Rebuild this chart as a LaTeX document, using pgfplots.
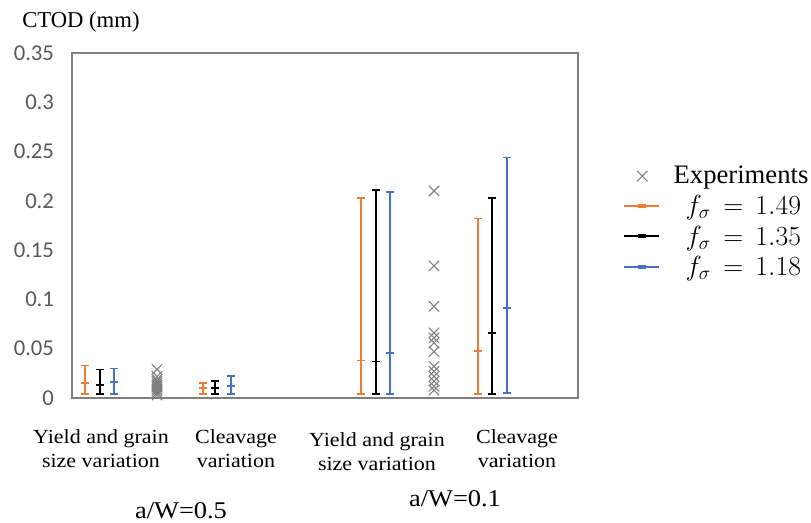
\documentclass[border=0pt]{standalone}
\usepackage{pgfplots}
\usepackage{pgfplotstable}
\usepackage{fontspec}
\pgfplotsset{compat=1.18}
\setmainfont{Liberation Serif}
\newfontfamily\carlito{Carlito}
\newfontfamily\wideserif[FakeStretch=1.1]{Liberation Serif}
\definecolor{cOrange}{HTML}{ED7D31}
\definecolor{cBlue}{HTML}{4472C4}
\definecolor{cGray}{HTML}{7F7F7F}
\definecolor{cTick}{HTML}{595959}

% x in pixel-like units (0..506), columns: x min mid max
\pgfplotstableread{
x min mid max
13 0.004 0.015 0.033
131 0.004 0.010 0.015
289 0.004 0.038 0.203
406 0.004 0.048 0.182
}\orangedata
\pgfplotstableread{
x min mid max
28 0.004 0.013 0.029
143 0.004 0.010 0.017
304 0.004 0.037 0.211
420 0.004 0.066 0.203
}\blackdata
\pgfplotstableread{
x min mid max
42 0.004 0.016 0.030
159 0.004 0.012 0.022
318 0.004 0.046 0.209
435 0.005 0.091 0.244
}\bluedata
\pgfplotstableread{
x y
85 0.029
85 0.022
85 0.019
85 0.017
85 0.015
85 0.013
85 0.011
85 0.009
85 0.007
85 0.005
85 0.003
362 0.210
362 0.134
362 0.093
362 0.066
362 0.061
362 0.056
362 0.047
362 0.032
362 0.027
362 0.022
362 0.017
362 0.012
362 0.008
}\expdata

\begin{document}
\begin{tikzpicture}
\path[use as bounding box] (-54pt,-93.75pt) rectangle (554.25pt,298.5pt);
\begin{axis}[
  at={(0,0)}, anchor=south west,
  scale only axis, width=379.5pt, height=258.75pt,
  xmin=0, xmax=506, ymin=0, ymax=0.35,
  xtick=\empty,
  ytick={0,0.05,0.1,0.15,0.2,0.25,0.3,0.35},
  yticklabels={0,0.05,0.1,0.15,0.2,0.25,0.3,0.35},
  major tick length=0pt,
  yticklabel style={font=\carlito\fontsize{17}{20}\selectfont, text=cTick, anchor=east, xshift=-10pt},
  axis line style={draw=cGray, line width=0.8pt},
  clip=false,
  legend style={at={(1.089,0.68)}, anchor=north west, draw=none, fill=none,
    font=\fontsize{20}{24}\selectfont, row sep=3pt, cells={anchor=west}, inner sep=0pt},
  legend cell align=left,
]
\addplot[only marks, mark=x, mark size=5.5pt, color=cGray, mark options={line width=0.8pt},
  legend image code/.code={\path[draw=none] (0pt,0pt) -- (35pt,0pt); \draw[cGray, line width=0.8pt] (13.5pt,0pt) +(-3.9pt,-3.9pt) -- +(3.9pt,3.9pt) +(-3.9pt,3.9pt) -- +(3.9pt,-3.9pt);}]
  table[x=x, y=y] {\expdata};
\addlegendentry{Experiments}

\addplot[only marks, mark=-, mark size=3pt, color=cOrange, line width=1.3pt,
  legend image code/.code={\path[draw=none] (0pt,0pt) -- (35pt,0pt); \draw[cOrange, line width=1.5pt] (0pt,0pt) -- (26pt,0pt); \draw[cOrange, line width=3pt] (10pt,0pt) -- (16pt,0pt);},
  error bars/.cd, y dir=both, y explicit,
  error bar style={line width=1.3pt, cOrange}, error mark options={rotate=90, line width=1.3pt, mark size=3pt, cOrange}]
  table[x=x, y=mid, y error plus expr=\thisrow{max}-\thisrow{mid}, y error minus expr=\thisrow{mid}-\thisrow{min}] {\orangedata};
\addlegendentry{\hspace{9pt}$f_\sigma\,=\,1.49$}

\addplot[only marks, mark=-, mark size=3pt, color=black, line width=1.3pt,
  legend image code/.code={\path[draw=none] (0pt,0pt) -- (35pt,0pt); \draw[black, line width=1.5pt] (0pt,0pt) -- (26pt,0pt); \draw[black, line width=3pt] (10pt,0pt) -- (16pt,0pt);},
  error bars/.cd, y dir=both, y explicit,
  error bar style={line width=1.3pt, black}, error mark options={rotate=90, line width=1.3pt, mark size=3pt, black}]
  table[x=x, y=mid, y error plus expr=\thisrow{max}-\thisrow{mid}, y error minus expr=\thisrow{mid}-\thisrow{min}] {\blackdata};
\addlegendentry{\hspace{9pt}$f_\sigma\,=\,1.35$}

\addplot[only marks, mark=-, mark size=3pt, color=cBlue, line width=1.3pt,
  legend image code/.code={\path[draw=none] (0pt,0pt) -- (35pt,0pt); \draw[cBlue, line width=1.5pt] (0pt,0pt) -- (26pt,0pt); \draw[cBlue, line width=3pt] (10pt,0pt) -- (16pt,0pt);},
  error bars/.cd, y dir=both, y explicit,
  error bar style={line width=1.3pt, cBlue}, error mark options={rotate=90, line width=1.3pt, mark size=3pt, cBlue}]
  table[x=x, y=mid, y error plus expr=\thisrow{max}-\thisrow{mid}, y error minus expr=\thisrow{mid}-\thisrow{min}] {\bluedata};
\addlegendentry{\hspace{9pt}$f_\sigma\,=\,1.18$}

\node[anchor=base, align=center, font=\wideserif\fontsize{15}{18}\selectfont] at (axis cs:29,-0.0702) {Yield and grain\\size variation};
\node[anchor=base, align=center, font=\wideserif\fontsize{15}{18}\selectfont] at (axis cs:164,-0.0702) {Cleavage\\variation};
\node[anchor=base, align=center, font=\wideserif\fontsize{15}{18}\selectfont] at (axis cs:305,-0.0732) {Yield and grain\\size variation};
\node[anchor=base, align=center, font=\wideserif\fontsize{15}{18}\selectfont] at (axis cs:445,-0.0702) {Cleavage\\variation};
\node[anchor=base, font=\wideserif\fontsize{18}{21}\selectfont] at (axis cs:109,-0.122) {a/W=0.5};
\node[anchor=base, font=\wideserif\fontsize{18}{21}\selectfont] at (axis cs:383,-0.110) {a/W=0.1};
\node[anchor=base west, inner sep=0pt, font=\fontsize{17}{20}\selectfont] at (axis cs:-50,0.376) {CTOD (mm)};
\end{axis}
\end{tikzpicture}
\end{document}
